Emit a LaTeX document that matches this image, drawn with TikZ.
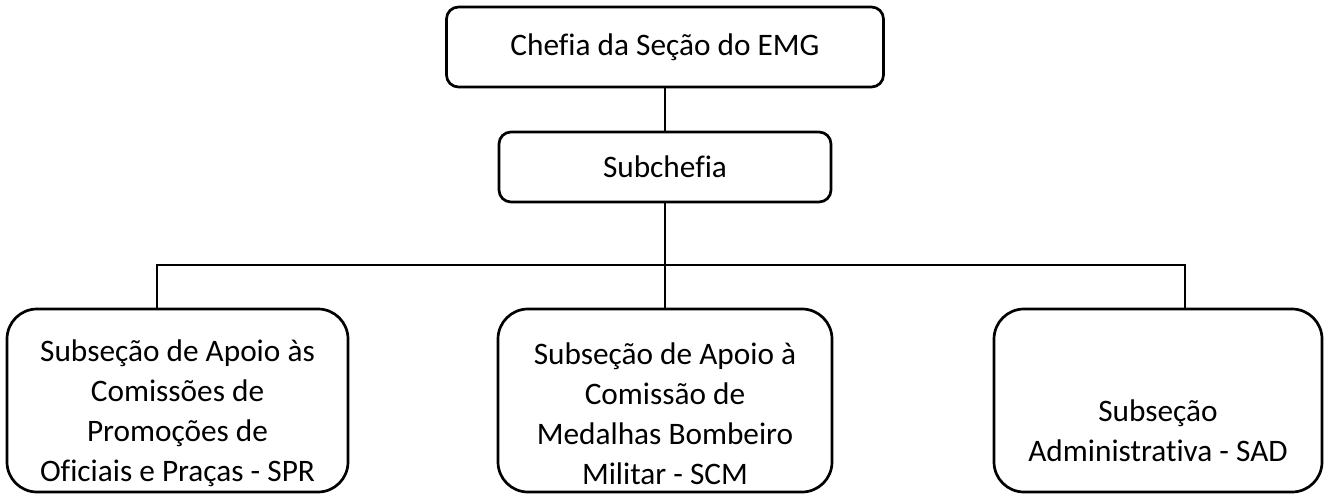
\documentclass[tikz,border=0pt]{standalone}
\usepackage{fontspec}
\setmainfont[Ligatures=NoCommon]{Carlito}
\begin{document}
\begin{tikzpicture}[x=1pt,y=-1pt,
  box/.style={draw, line width=2.7pt, inner sep=0pt, rounded corners=#1},
  txt/.style={align=center, inner sep=0pt, font=\fontsize{31.3}{40}\selectfont},
  link/.style={line width=2.7pt}]
\useasboundingbox (0,0) rectangle (1328,496);
\node[box=12pt, minimum width=437pt, minimum height=80pt] (top) at (665,47) {};
\node[txt] (topT) at (665,47) {Chefia da Seção do EMG};
\node[box=12pt, minimum width=332pt, minimum height=70pt] (sub) at (665,167) {};
\node[txt] (subT) at (665,167) {Subchefia};
\node[box=30pt, minimum width=341pt, minimum height=183pt] (left) at (177.5,400.5) {};
\node[txt] (leftT) at (177.5,413) {Subseção de Apoio às\\Comissões de\\Promoções de\\Oficiais e Praças - SPR};
\node[box=30pt, minimum width=334pt, minimum height=183pt] (mid) at (665,400.5) {};
\node[txt] (midT) at (665,414) {Subseção de Apoio à\\Comissão de\\Medalhas Bombeiro\\Militar - SCM};
\node[box=30pt, minimum width=328pt, minimum height=183pt] (right) at (1158,400.5) {};
\node[txt] (rightT) at (1158,431) {Subseção\\Administrativa - SAD};
\coordinate (busL) at (157,265);
\coordinate (busR) at (1185,265);
\draw[link] (top.south) -- (sub.north);
\draw[link] (sub.south) -- (mid.north);
\draw[link] (left.north -| busL) -- (busL) -- (busR) -- (right.north -| busR);
\end{tikzpicture}
\end{document}
